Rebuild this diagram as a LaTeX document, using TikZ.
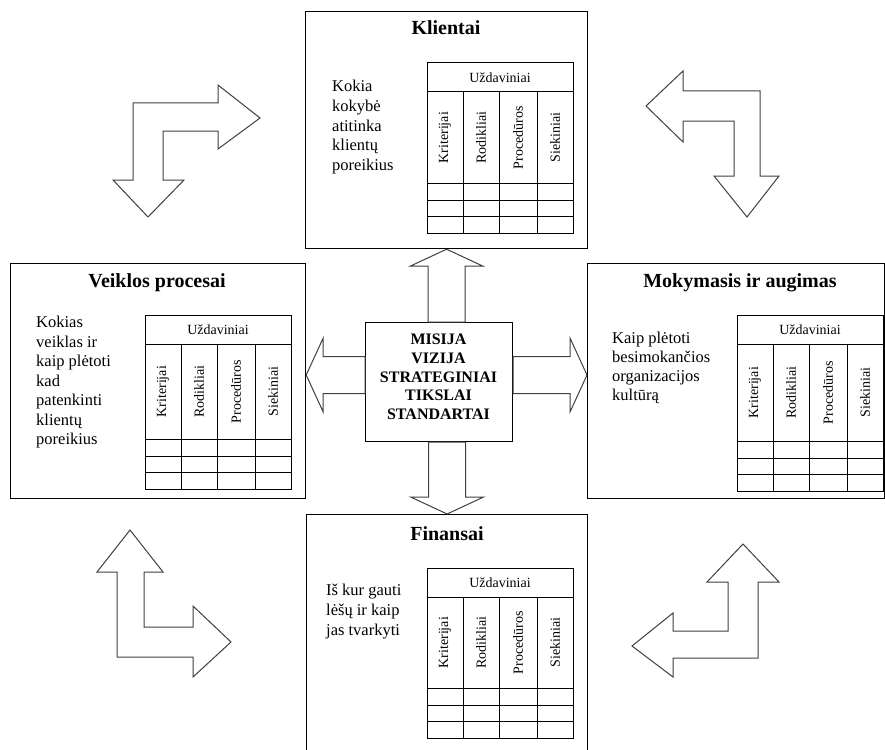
\documentclass[tikz,border=0pt]{standalone}
\usepackage{fontspec}
\setmainfont{Liberation Serif}
\usetikzlibrary{calc}
\tikzset{
  box/.style={draw=black, line width=1.2pt, inner sep=0pt, anchor=north west},
  tline/.style={draw=black, line width=1pt},
  tabtxt/.style={font=\fontsize{14}{16}\selectfont, inner sep=0pt},
  ttl/.style={font=\fontsize{20}{24}\selectfont\bfseries, anchor=base, inner sep=0pt},
  body/.style={align=left, anchor=north west, inner sep=0pt},
  barrow/.style={draw=black!75, line width=1pt, line join=miter},
  tabl/.pic={
    \draw[tline] (0,0) rectangle (146,#1);
    \draw[tline] (0,29) -- (146,29)
      (36,29) -- (36,#1) (72,29) -- (72,#1) (110,29) -- (110,#1)
      (0,{#1-49.5}) -- (146,{#1-49.5})
      (0,{#1-33}) -- (146,{#1-33})
      (0,{#1-16.5}) -- (146,{#1-16.5});
    \node[tabtxt] (-h) at (73,14.5) {Uždaviniai};
    \node[tabtxt,rotate=90] (-a) at (18,{(#1-20.5)/2}) {Kriterijai};
    \node[tabtxt,rotate=90] (-b) at (54,{(#1-20.5)/2}) {Rodikliai};
    \node[tabtxt,rotate=90] (-c) at (91,{(#1-20.5)/2}) {Procedūros};
    \node[tabtxt,rotate=90] (-d) at (128,{(#1-20.5)/2}) {Siekiniai};
  }
}
\begin{document}
\begin{tikzpicture}[x=1pt,y=-1pt]
\fill[white] (0,0) rectangle (885,749);
\useasboundingbox (0,0) rectangle (885,749);

% main boxes
\node[box, minimum width=282pt, minimum height=237pt] (kl) at (305,11) {};
\node[box, minimum width=295pt, minimum height=235pt] (ve) at (10,263) {};
\node[box, minimum width=297pt, minimum height=235pt] (mo) at (587,263) {};
\node[box, minimum width=281pt, minimum height=245pt] (fi) at (306,514) {};
\node[box, minimum width=147pt, minimum height=119pt] (c) at (365,322) {};

% titles
\node[ttl] (klT) at (446,35) {Klientai};
\node[ttl] (veT) at (157,287) {Veiklos procesai};
\node[ttl] (moT) at (740,287) {Mokymasis ir augimas};
\node[ttl] (fiT) at (447,540) {Finansai};

% body texts
\node[body, font=\fontsize{16.5}{19.7}\selectfont] (klB) at (332,80)
  {Kokia\\kokybė\\atitinka\\klientų\\poreikius};
\node[body, font=\fontsize{16.5}{19.5}\selectfont] (veB) at (36,316)
  {Kokias\\veiklas ir\\kaip plėtoti\\kad\\patenkinti\\klientų\\poreikius};
\node[body, font=\fontsize{16.5}{19}\selectfont] (moB) at (612,332)
  {Kaip plėtoti\\besimokančios\\organizacijos\\kultūrą};
\node[body, font=\fontsize{16.5}{20}\selectfont] (fiB) at (326,584)
  {Iš kur gauti\\lėšų ir kaip\\jas tvarkyti};

% centre text
\node[font=\fontsize{16}{18.7}\selectfont\bfseries, align=center, anchor=north, inner sep=0pt]
  (ct) at (438.5,334) {MISIJA\\VIZIJA\\STRATEGINIAI\\TIKSLAI\\STANDARTAI};

% tables
\pic (tK) at (427,63) {tabl=170};
\pic (tV) at (145,315) {tabl=174};
\pic (tM) at (737,315) {tabl=176};
\pic (tF) at (427,568) {tabl=170};

% double-headed block connectors
\coordinate (hy) at (0,375);
\coordinate (hyU) at (0,356.5);
\coordinate (hyD) at (0,393.5);

\draw[barrow] (kl.south) -- ++(36.5,17) -- ++(-18,0)
  -- ([xshift=18.5pt]kl.south |- c.north) -- ([xshift=-18.5pt]kl.south |- c.north)
  -- ([xshift=-18.5pt,yshift=-17pt]kl.south) -- ++(-18,0) -- cycle;
\draw[barrow] (fi.north) -- ++(36.5,-17) -- ++(-18,0)
  -- ([xshift=18.5pt]fi.north |- c.south) -- ([xshift=-18.5pt]fi.north |- c.south)
  -- ([xshift=-18.5pt,yshift=17pt]fi.north) -- ++(-18,0) -- cycle;
\draw[barrow] (ve.east |- hy) -- ++(17,-37) -- ++(0,18.5)
  -- (c.west |- hyU) -- (c.west |- hyD)
  -- ([xshift=17pt]ve.east |- hyD) -- ++(0,18.5) -- cycle;
\draw[barrow] (mo.west |- hy) -- ++(-17,-37) -- ++(0,18.5)
  -- (c.east |- hyU) -- (c.east |- hyD)
  -- ([xshift=-17pt]mo.west |- hyD) -- ++(0,18.5) -- cycle;

% corner bent arrows
\draw[barrow] (133,103) -- (218,103) -- (218,85) -- (260,118) -- (218,149) -- (218,131)
  -- (163,131) -- (163,180) -- (184,180) -- (148,217) -- (113,180) -- (133,180) -- cycle;
\draw[barrow] (683,71) -- (683,91) -- (760,91) -- (760,176) -- (779,176) -- (747,217)
  -- (714,176) -- (734,176) -- (734,121) -- (683,121) -- (683,142) -- (646,106) -- cycle;
\draw[barrow] (130,530) -- (163,572) -- (144,572) -- (144,627) -- (193,627) -- (193,606)
  -- (231,642) -- (193,677) -- (193,657) -- (117,657) -- (117,572) -- (97,572) -- cycle;
\draw[barrow] (743,544) -- (779,582) -- (758,582) -- (758,658) -- (673,658) -- (673,677)
  -- (632,646) -- (673,613) -- (673,631) -- (728,631) -- (728,582) -- (707,582) -- cycle;
\end{tikzpicture}
\end{document}
